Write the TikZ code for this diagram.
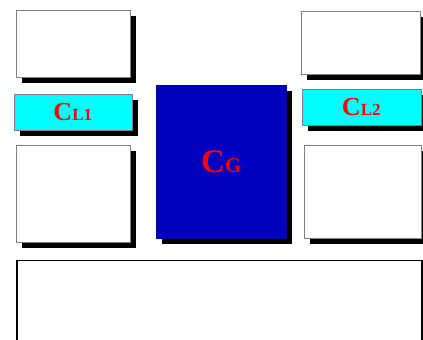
\documentclass[tikz,border=0pt]{standalone}
\usepackage{fontspec}
\setmainfont{Liberation Serif}
\usepackage{tikz}
\usetikzlibrary{shadows}
\definecolor{coreBlue}{RGB}{0,0,192}
\definecolor{coreCyan}{RGB}{0,255,255}
\definecolor{coreRed}{RGB}{255,0,0}
\newcommand{\corelabel}[3]{\textbf{\fontsize{#1}{#1}\selectfont C\fontsize{#2}{#2}\selectfont #3}}

\begin{document}
\begin{tikzpicture}[x=1pt, y=-1pt,
  shade box/.style={drop shadow={shadow xshift=6pt, shadow yshift=-6pt, fill=black, opacity=1}},
  panel/.style={draw=gray, line width=0.6pt, fill=white, anchor=north west, inner sep=0pt, shade box},
  cache/.style={panel, fill=coreCyan, text=coreRed},
  global/.style={panel, draw=blue!60!black, fill=coreBlue, text=coreRed}]
\clip (0,0) rectangle (423,340);
\fill[white] (0,0) rectangle (423,340);
% left column
\node[panel, minimum width=114pt, minimum height=67pt] (topL) at (16,10) {};
\node[cache, minimum width=118pt, minimum height=36pt] (cacheL) at (13.5,94) {\corelabel{26}{17}{L1}};
\node[panel, minimum width=114pt, minimum height=97pt] (midL) at (16,144.5) {};
% centre
\node[global, minimum width=130pt, minimum height=153pt] (glob) at (156,84.5) {\corelabel{33}{21}{G}};
% right column
\node[panel, minimum width=119pt, minimum height=63pt] (topR) at (301,10.5) {};
\node[cache, minimum width=119pt, minimum height=36pt] (cacheR) at (301.5,89) {\corelabel{26}{17}{L2}};
\node[panel, minimum width=117pt, minimum height=93pt] (midR) at (303.5,144.5) {};
% bottom
\node[panel, draw=black, line width=1.5pt, minimum width=405pt, minimum height=110pt] (mem) at (16,259.5) {};
\end{tikzpicture}
\end{document}
